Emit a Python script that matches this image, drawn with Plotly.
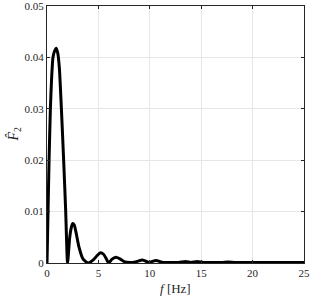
import plotly.graph_objects as go

freq = [0, 0.1, 0.2, 0.33, 0.45, 0.58, 0.75, 0.9, 1.05, 1.2, 1.4, 1.62, 1.82, 2.0,
        2.2, 2.35, 2.5, 2.65, 2.8, 3.1, 3.5, 4.0, 4.5, 4.9, 5.2, 5.5, 5.8, 6.0,
        6.3, 6.7, 7.1, 7.6, 8.0, 8.6, 9.3, 9.9, 10.6, 11.3, 12.0, 12.8, 13.5,
        14.0, 14.6, 15.2, 16.0, 17.0, 17.6, 18.3, 19.0, 20.0, 21.0, 22.0, 23.0,
        24.0, 25.0]
amp = [0, 0.010, 0.020, 0.030, 0.036, 0.040, 0.0413, 0.0418, 0.0408, 0.038,
       0.030, 0.020, 0.010, 0.0,
       0.0048, 0.0068, 0.0077, 0.0074, 0.0062, 0.0032, 0.0008, 0.0, 0.0006,
       0.0015, 0.0020, 0.0017, 0.0007, 0.0,
       0.0007, 0.0011, 0.0008, 0.0002, 0.0001, 0.0002, 0.0006, 0.0001, 0.0005,
       0.0001, 0.0001, 0.0001, 0.0003,
       0.0001, 0.0003, 0.0001, 0.0001, 0.0001, 0.0002, 0.0001, 0.0001, 0.0001,
       0.0001, 0.0001, 0.0001, 0.0001, 0.0001]

x_ticks = [0, 5, 10, 15, 20, 25]
y_ticks = [0, 0.01, 0.02, 0.03, 0.04, 0.05]
y_tick_labels = ["0", "0.01", "0.02", "0.03", "0.04", "0.05"]

fig = go.Figure(go.Scatter(x=freq, y=amp, mode="lines",
                           line=dict(color="black", width=3, shape="spline", smoothing=0.6),
                           hoverinfo="skip"))

FAM = "Liberation Serif"
font = dict(family=FAM, size=11, color="#262626")
axis_common = dict(showgrid=True, gridcolor="#e6e6e6", gridwidth=1,
                   showline=True, linecolor="#262626", linewidth=1, mirror="ticks",
                   ticks="inside", ticklen=3, tickcolor="#262626", zeroline=False,
                   tickfont=font, automargin=False, ticklabeloverflow="allow")

fig.update_layout(
    width=311, height=299,
    margin=dict(l=47, r=7, t=6, b=36),
    paper_bgcolor="white", plot_bgcolor="white",
    showlegend=False,
    font=dict(family=FAM),
    xaxis=dict(range=[0, 25], tickvals=x_ticks, ticktext=[str(v) for v in x_ticks],
               **axis_common),
    yaxis=dict(range=[0, 0.05], tickvals=y_ticks, ticktext=y_tick_labels,
               **axis_common),
    annotations=[
        dict(text="<i>f</i> [Hz]", xref="paper", yref="paper", x=0.5, y=0,
             yshift=-25, xanchor="center", yanchor="middle", showarrow=False,
             font=dict(family=FAM, size=13, color="#262626")),
        dict(text="<i>F̂</i><sub>2</sub>", xref="paper", yref="paper", x=0, y=0.5,
             xshift=-33, xanchor="center", yanchor="middle", textangle=-90,
             showarrow=False, font=dict(family=FAM, size=14, color="#262626")),
    ],
)

fig.write_html("out.html", config={"displayModeBar": False},
               post_script="document.body.style.margin='0';document.body.style.overflow='hidden';")
